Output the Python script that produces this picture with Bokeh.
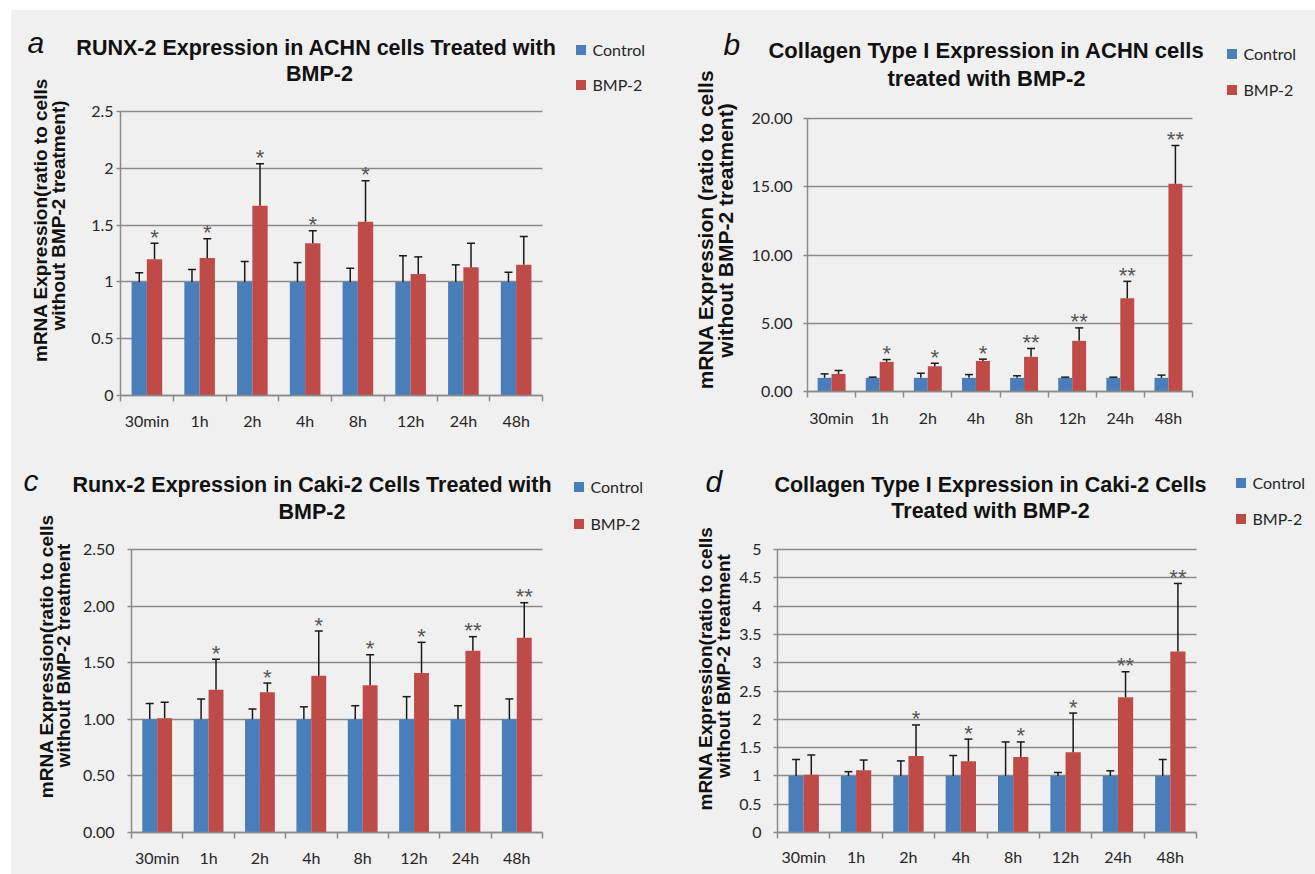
import math
import numpy as np
from bokeh.plotting import figure
from bokeh.layouts import column, row
from bokeh.models import (ColumnDataSource, Range1d, FixedTicker, NumeralTickFormatter,
                          Label, Legend, LegendItem, Whisker, TeeHead, LinearAxis)
from bokeh.transform import dodge
from bokeh.core.properties import value
from bokeh.embed import file_html
from bokeh.resources import INLINE

# ---------------- data ----------------
times = ["30min", "1h", "2h", "4h", "8h", "12h", "24h", "48h"]

# a: RUNX-2 in ACHN
a_ctrl = [1, 1, 1, 1, 1, 1, 1, 1]
a_ctrl_err = [0.08, 0.11, 0.18, 0.17, 0.12, 0.23, 0.15, 0.085]
a_bmp = [1.20, 1.21, 1.67, 1.34, 1.53, 1.07, 1.13, 1.15]
a_bmp_err = [0.14, 0.17, 0.37, 0.11, 0.36, 0.15, 0.21, 0.25]
a_stars = ["*", "*", "*", "*", "*", "", "", ""]

# b: Collagen I in ACHN
b_ctrl = [1, 1, 1, 1, 1, 1, 1, 1]
b_ctrl_err = [0.29, 0.05, 0.34, 0.24, 0.15, 0.05, 0.05, 0.20]
b_bmp = [1.29, 2.17, 1.85, 2.24, 2.54, 3.71, 6.83, 15.22]
b_bmp_err = [0.25, 0.17, 0.22, 0.13, 0.61, 0.95, 1.24, 2.80]
b_stars = ["", "*", "*", "*", "**", "**", "**", "**"]

# c: Runx-2 in Caki-2
c_ctrl = [1, 1, 1, 1, 1, 1, 1, 1]
c_ctrl_err = [0.14, 0.18, 0.09, 0.11, 0.12, 0.20, 0.12, 0.18]
c_bmp = [1.01, 1.26, 1.24, 1.385, 1.30, 1.41, 1.605, 1.72]
c_bmp_err = [0.14, 0.27, 0.08, 0.395, 0.27, 0.27, 0.125, 0.31]
c_stars = ["", "*", "*", "*", "*", "*", "**", "**"]

# d: Collagen I in Caki-2
d_ctrl = [1, 1, 1, 1, 1, 1, 1, 1]
d_ctrl_err = [0.29, 0.075, 0.265, 0.36, 0.60, 0.06, 0.09, 0.29]
d_bmp = [1.02, 1.10, 1.35, 1.26, 1.335, 1.42, 2.39, 3.20]
d_bmp_err = [0.35, 0.18, 0.55, 0.39, 0.265, 0.69, 0.45, 1.20]
d_stars = ["", "", "*", "*", "*", "*", "**", "**"]

a_yticks = [0, 0.5, 1, 1.5, 2, 2.5]
b_yticks = [0, 5, 10, 15, 20]
c_yticks = [0, 0.5, 1, 1.5, 2, 2.5]
d_yticks = [0, 0.5, 1, 1.5, 2, 2.5, 3, 3.5, 4, 4.5, 5]

legend_labels = ["Control", "BMP-2"]

# ---------------- style ----------------
BG = "#f0f0f0"
BLUE = "#4a7ebb"
RED = "#be4b48"
GRID = "#8a8a8a"
ERR = "#1a1a1a"
TXT = "#262626"
TICK_FONT = "Lato"
BOLD_FONT = "Liberation Sans"


def make_panel(w, h, borders, ymax, yticks, yfmt, ctrl, ctrl_err, bmp, bmp_err, stars,
               letter, letter_pos, titles, title_x, title_ys, title_size,
               ylabels, ylabel_pos, ylabel_size, legend_pos, legend_spacing,
               y_standoff, x_standoff):
    # borders = distances (px) from the figure edges to the data area
    l, r, t, b = borders
    n = len(times)
    sx = n / (w - l - r)
    sy = ymax / (h - t - b)
    p = figure(width=w, height=h,
               x_range=Range1d(-l * sx, n + r * sx),
               y_range=Range1d(-b * sy, ymax + t * sy),
               output_backend="svg", toolbar_location=None, tools="", title=None,
               min_border_left=0, min_border_right=0, min_border_top=0, min_border_bottom=0)
    p.background_fill_color = BG
    p.border_fill_color = BG
    p.outline_line_color = None

    xc = np.arange(n) + 0.5
    ctrl_top = [m + e for m, e in zip(ctrl, ctrl_err)]
    bmp_top = [m + e for m, e in zip(bmp, bmp_err)]
    src = ColumnDataSource(dict(xc=xc, ctrl=ctrl, ctrl_top=ctrl_top,
                                bmp=bmp, bmp_top=bmp_top, stars=stars))

    # grid lines limited to the data area
    p.xgrid.visible = False
    grid_ok = True
    try:
        p.ygrid.cross_bounds = (0, n)
    except Exception:
        grid_ok = False
    if grid_ok:
        p.ygrid.ticker = FixedTicker(ticks=yticks, minor_ticks=[])
        p.ygrid.bounds = (0, ymax)
        p.ygrid.grid_line_color = GRID
        p.ygrid.grid_line_width = 1.5
    else:
        p.ygrid.visible = False
        p.segment(x0=[0] * len(yticks), x1=[n] * len(yticks), y0=yticks, y1=yticks,
                  line_color=GRID, line_width=1.5)

    bw = 0.29
    p.vbar(x=dodge("xc", -bw / 2), top="ctrl", bottom=0, width=bw, source=src,
           fill_color=BLUE, line_color=None)
    p.vbar(x=dodge("xc", bw / 2), top="bmp", bottom=0, width=bw, source=src,
           fill_color=RED, line_color=None)

    for xoff, lo, hi in ((-bw / 2, "ctrl", "ctrl_top"), (bw / 2, "bmp", "bmp_top")):
        wk = Whisker(source=src, base=dodge("xc", xoff), lower=lo, upper=hi,
                     dimension="height", line_color=ERR, line_width=1.5,
                     upper_head=TeeHead(size=8, line_color=ERR, line_width=1.5),
                     lower_head=None, level="overlay")
        p.add_layout(wk)

    p.text(x=dodge("xc", bw / 2), y="bmp_top", text="stars", source=src,
           text_align="center", text_baseline="middle", y_offset=-6,
           text_font=value(BOLD_FONT), text_font_size="22px", text_color="#555555")

    # x axis 1: line + tick marks between the categories (no labels)
    xa = p.xaxis[0]
    xa.fixed_location = 0
    xa.bounds = (0, n)
    xa.ticker = FixedTicker(ticks=list(range(n + 1)), minor_ticks=[])
    xa.major_label_overrides = {float(i): "" for i in range(n + 1)}
    xa.major_tick_out = 6
    xa.major_tick_in = 0
    xa.major_tick_line_color = GRID
    xa.major_tick_line_width = 1.5
    xa.minor_tick_line_color = None
    xa.axis_line_color = GRID
    xa.axis_line_width = 1.5
    xa.major_label_text_font_size = "1px"

    # x axis 2: category labels at the group centres
    xl = LinearAxis(fixed_location=0, bounds=(0, n),
                    ticker=FixedTicker(ticks=list(xc), minor_ticks=[]),
                    major_label_overrides={float(x): tlab for x, tlab in zip(xc, times)},
                    axis_line_color=None, major_tick_line_color=None,
                    minor_tick_line_color=None, major_tick_out=0, major_tick_in=0,
                    major_label_standoff=x_standoff,
                    major_label_text_font=TICK_FONT, major_label_text_font_size="16px",
                    major_label_text_color=TXT)
    p.add_layout(xl, "below")

    ya = p.yaxis[0]
    ya.fixed_location = 0
    ya.bounds = (0, ymax)
    ya.ticker = FixedTicker(ticks=yticks, minor_ticks=[])
    ya.formatter = NumeralTickFormatter(format=yfmt)
    ya.major_tick_out = 4
    ya.major_tick_in = 0
    ya.major_tick_line_color = GRID
    ya.major_tick_line_width = 1.5
    ya.minor_tick_line_color = None
    ya.axis_line_color = GRID
    ya.axis_line_width = 1.5
    ya.major_label_standoff = y_standoff
    ya.major_label_text_font = TICK_FONT
    ya.major_label_text_font_size = "16px"
    ya.major_label_text_color = TXT

    # titles and labels (screen px, from the bottom-left of the data area)
    for txt, ty in zip(titles, title_ys):
        p.add_layout(Label(text=txt, x=l + title_x, y=b + ty, x_units="screen", y_units="screen",
                           text_align="center", text_baseline="middle",
                           text_font=BOLD_FONT, text_font_style="bold",
                           text_font_size=title_size, text_color="#111111"))
    p.add_layout(Label(text=letter, x=l + letter_pos[0], y=b + letter_pos[1], x_units="screen",
                       y_units="screen", text_align="left", text_baseline="alphabetic",
                       text_font=BOLD_FONT, text_font_style="italic",
                       text_font_size="30px", text_color="#111111"))
    for txt, (lx, ly) in zip(ylabels, ylabel_pos):
        p.add_layout(Label(text=txt, x=l + lx, y=b + ly, x_units="screen", y_units="screen",
                           angle=math.pi / 2, text_align="center", text_baseline="middle",
                           text_font=BOLD_FONT, text_font_style="bold",
                           text_font_size=ylabel_size, text_color="#111111"))

    # legend (swatch renderers sit outside the visible ranges)
    far = -1e6
    sq_c = p.scatter(x=[far], y=[far], marker="square", fill_color=BLUE, line_color=None)
    sq_b = p.scatter(x=[far], y=[far], marker="square", fill_color=RED, line_color=None)
    leg = Legend(items=[LegendItem(label=legend_labels[0], renderers=[sq_c]),
                        LegendItem(label=legend_labels[1], renderers=[sq_b])],
                 location=(l + legend_pos[0], b + legend_pos[1]), orientation="vertical",
                 glyph_width=25, glyph_height=25, label_height=25,
                 label_standoff=0, spacing=legend_spacing, padding=0, margin=0,
                 border_line_color=None, background_fill_alpha=0,
                 label_text_font=TICK_FONT, label_text_font_size="16px",
                 label_text_color=TXT)
    p.add_layout(leg)
    return p


pa = make_panel(649, 427, (109, 118, 101, 42), 2.5, a_yticks, "0.[0]",
                a_ctrl, a_ctrl_err, a_bmp, a_bmp_err, a_stars,
                "a", (-93, 353),
                ["RUNX-2 Expression in ACHN cells Treated  with", "BMP-2"], 199, [348, 322], "21.5px",
                ["mRNA Expression(ratio to cells", "without BMP-2 treatment)"],
                [(-80.5, 175.5), (-62.5, 180)], "19px",
                (447.5, 298.5), 10, 3, 15)

pb = make_panel(655, 427, (147, 123, 108, 46), 20, b_yticks, "0.00",
                b_ctrl, b_ctrl_err, b_bmp, b_bmp_err, b_stars,
                "b", (-84, 347),
                ["Collagen Type I Expression in ACHN cells", "treated with BMP-2"], 179, [341, 313], "22px",
                ["mRNA Expression (ratio to cells", "without BMP-2 treatment)"],
                [(-102, 162), (-82, 161)], "21px",
                (411.5, 289.5), 11, 11, 16)

pc = make_panel(649, 437, (120, 118, 112, 42), 2.5, c_yticks, "0.00",
                c_ctrl, c_ctrl_err, c_bmp, c_bmp_err, c_stars,
                "c", (-108, 352),
                ["Runx-2 Expression in Caki-2 Cells Treated with", "BMP-2"], 180.5, [348, 321], "21.5px",
                ["mRNA Expression(ratio to cells", "without BMP-2 treatment"],
                [(-85.3, 176.3), (-68.5, 177)], "19px",
                (434.5, 296.5), 12, 13, 15)

pd_ = make_panel(655, 437, (117, 119, 112, 42), 5, d_yticks, "0.[0]",
                 d_ctrl, d_ctrl_err, d_bmp, d_bmp_err, d_stars,
                 "d", (-72, 351),
                 ["Collagen Type I Expression in Caki-2 Cells", "Treated with BMP-2"], 213, [348, 322], "21.5px",
                 ["mRNA Expression(ratio to cells", "without BMP-2 treatment"],
                 [(-72.5, 164), (-54.5, 166.5)], "19px",
                 (450.5, 301.5), 11, 12, 14)

layout = column(row(pa, pb, styles={"background-color": BG}),
                row(pc, pd_, styles={"background-color": BG}),
                styles={"background-color": BG}, margin=(10, 0, 0, 11))

open("out.html", "w").write(file_html(layout, INLINE))
